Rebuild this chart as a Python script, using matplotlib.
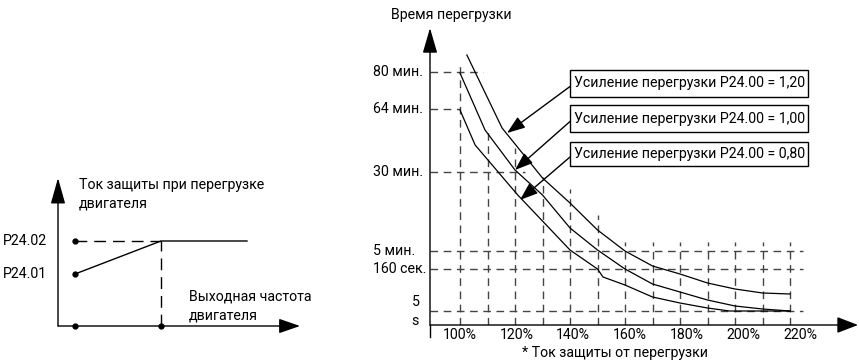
import matplotlib
matplotlib.use("Agg")
import matplotlib.pyplot as plt
from matplotlib.patches import Rectangle

plt.rcParams['font.family'] = ['Roboto', 'DejaVu Sans']
FS = 10.2

# ---- left diagram: protection current vs output frequency
left_levels = [52, 85]                 # P24.01, P24.02 (axis units)
left_level_labels = ["P24.01", "P24.02"]
freq_start, freq_knee, freq_end = 17, 103, 189

# ---- right chart: overload time vs current
pct_grid = [100, 110, 120, 130, 140, 150, 160, 170, 180, 190, 200, 210, 220]
pct_grid_top = [263, 198, 177, 148, 136, 110, 83, 83, 83, 83, 83, 83, 83]
pct_ticks = [100, 120, 140, 160, 180, 200, 220]
pct_tick_labels = ["100%", "120%", "140%", "160%", "180%", "200%", "220%"]

time_labels = ["80 мин.", "64 мин.", "30 мин.", "5 мин.", "160 сек."]
time_pos = [253, 216, 153, 74, 56]
time_line_end = [108.4, 100, 123.6, 224.7, 224.7]
time_5s = 14

gain_labels = ["Усиление перегрузки P24.00 = 1,20",
               "Усиление перегрузки P24.00 = 1,00",
               "Усиление перегрузки P24.00 = 0,80"]
gain_120_x = [102.5, 115.3, 130, 140, 150, 160, 170, 180, 190, 200, 210, 220]
gain_120_y = [270, 197, 147, 122, 95, 74, 59, 51, 42, 36, 32, 31]
gain_100_x = [100, 109.1, 120, 130, 140, 150, 160, 170, 180, 190, 200, 210, 220]
gain_100_y = [252, 195, 155, 130, 97, 75, 56, 41, 33, 25, 19, 16, 14]
gain_080_x = [100, 105.5, 121, 140, 150, 152, 160, 170, 180, 190, 198, 220]
gain_080_y = [215, 180, 130, 75, 56, 48, 40, 28, 22, 17, 14, 14]
arrow_tips = [(117.1, 192), (120, 155), (121.8, 125)]
box_y = [(228, 255), (193, 220), (159, 183)]
box_x = (140, 226.5)

fig = plt.figure(figsize=(8.59, 3.63), dpi=100)

def arrow(ax, p0, p1, hl=1.6, hw=0.45):
    ax.annotate("", xy=p1, xytext=p0, annotation_clip=False,
                arrowprops=dict(arrowstyle=f"-|>,head_length={hl},head_width={hw}",
                                color="black", lw=1, shrinkA=0, shrinkB=0,
                                mutation_scale=10))

# ---------- left
axL = fig.add_axes([58 / 859, 37 / 363, 242 / 859, 148 / 363])
axL.set_xlim(0, 242)
axL.set_ylim(0, 148)
axL.axis("off")
arrow(axL, (0, 0), (0, 148), hl=1.6, hw=0.45)
arrow(axL, (0, 0), (242, 0), hl=1.3, hw=0.45)
dash_l = (0, (8.5, 5))
axL.plot([freq_start, freq_knee], [left_levels[1]] * 2, color="black", lw=1, ls=dash_l)
axL.plot([freq_knee, freq_knee], [0, left_levels[1]], color="black", lw=1, ls=dash_l)
axL.plot([freq_start, freq_knee, freq_end],
         [left_levels[0], left_levels[1], left_levels[1]], color="black", lw=1)
axL.plot([freq_start] * 3 + [freq_knee], left_levels + [0, 0], "o", color="black",
         ms=3.5, clip_on=False)
for lab, y in zip(left_level_labels, left_levels):
    axL.text(-55, y, lab, fontsize=FS, ha="left", va="center")
axL.text(21, 132, "Ток защиты при перегрузке\nдвигателя", fontsize=FS,
         ha="left", va="center", linespacing=1.4)
axL.text(131, 20, "Выходная частота\nдвигателя", fontsize=FS,
         ha="left", va="center", linespacing=1.4)

# ---------- right
x0 = 100 - 30 / 2.75
axR = fig.add_axes([430 / 859, 38 / 363, 429 / 859, 325 / 363])
axR.set_xlim(x0, x0 + 429 / 2.75)
axR.set_ylim(0, 325)
axR.axis("off")

dash_r = (0, (5.5, 4))
for x, top in zip(pct_grid, pct_grid_top):
    axR.plot([x, x], [0, top], color="#444444", lw=1, ls=dash_r)
for y, end in zip(time_pos + [time_5s], time_line_end + [224.7]):
    axR.plot([x0, end], [y, y], color="#444444", lw=1, ls=dash_r)

for xs, ys in [(gain_120_x, gain_120_y), (gain_100_x, gain_100_y), (gain_080_x, gain_080_y)]:
    axR.plot(xs, ys, color="black", lw=0.9)

axR.plot([x0, x0], [-12, 0], color="black", lw=1, clip_on=False)
arrow(axR, (x0, 0), (x0, 297), hl=1.55, hw=0.45)
arrow(axR, (x0, 0), (x0 + 428 / 2.75, 0), hl=1.3, hw=0.5)

for lab, y in zip(time_labels, time_pos):
    axR.text(x0 - 57 / 2.75, y, lab, fontsize=FS, ha="left", va="center")
axR.text(x0 - 14 / 2.75, 23, "5", fontsize=FS, ha="center", va="center")
axR.text(x0 - 15 / 2.75, 4, "s", fontsize=FS, ha="center", va="center")
for x, lab in zip(pct_ticks, pct_tick_labels):
    axR.text(x + (x - 100) * 0.03, -10, lab, fontsize=FS, ha="center", va="center")
axR.text(x0 - 39 / 2.75, 310, "Время перегрузки", fontsize=FS, ha="left", va="center")
axR.text(100 + 155 / 2.75, -28, "* Ток защиты от перегрузки", fontsize=FS,
         ha="center", va="center")

for lab, (y0, y1), tip in zip(gain_labels, box_y, arrow_tips):
    axR.add_patch(Rectangle((box_x[0], y0), box_x[1] - box_x[0], y1 - y0,
                            fill=False, edgecolor="black", lw=1))
    axR.text(box_x[0] + 1.3, (y0 + y1) / 2, lab, fontsize=FS, ha="left", va="center")
    arrow(axR, (box_x[0], (y0 + y1) / 2 - 3), tip, hl=1.1, hw=0.4)

fig.savefig("out.png", dpi=100)
